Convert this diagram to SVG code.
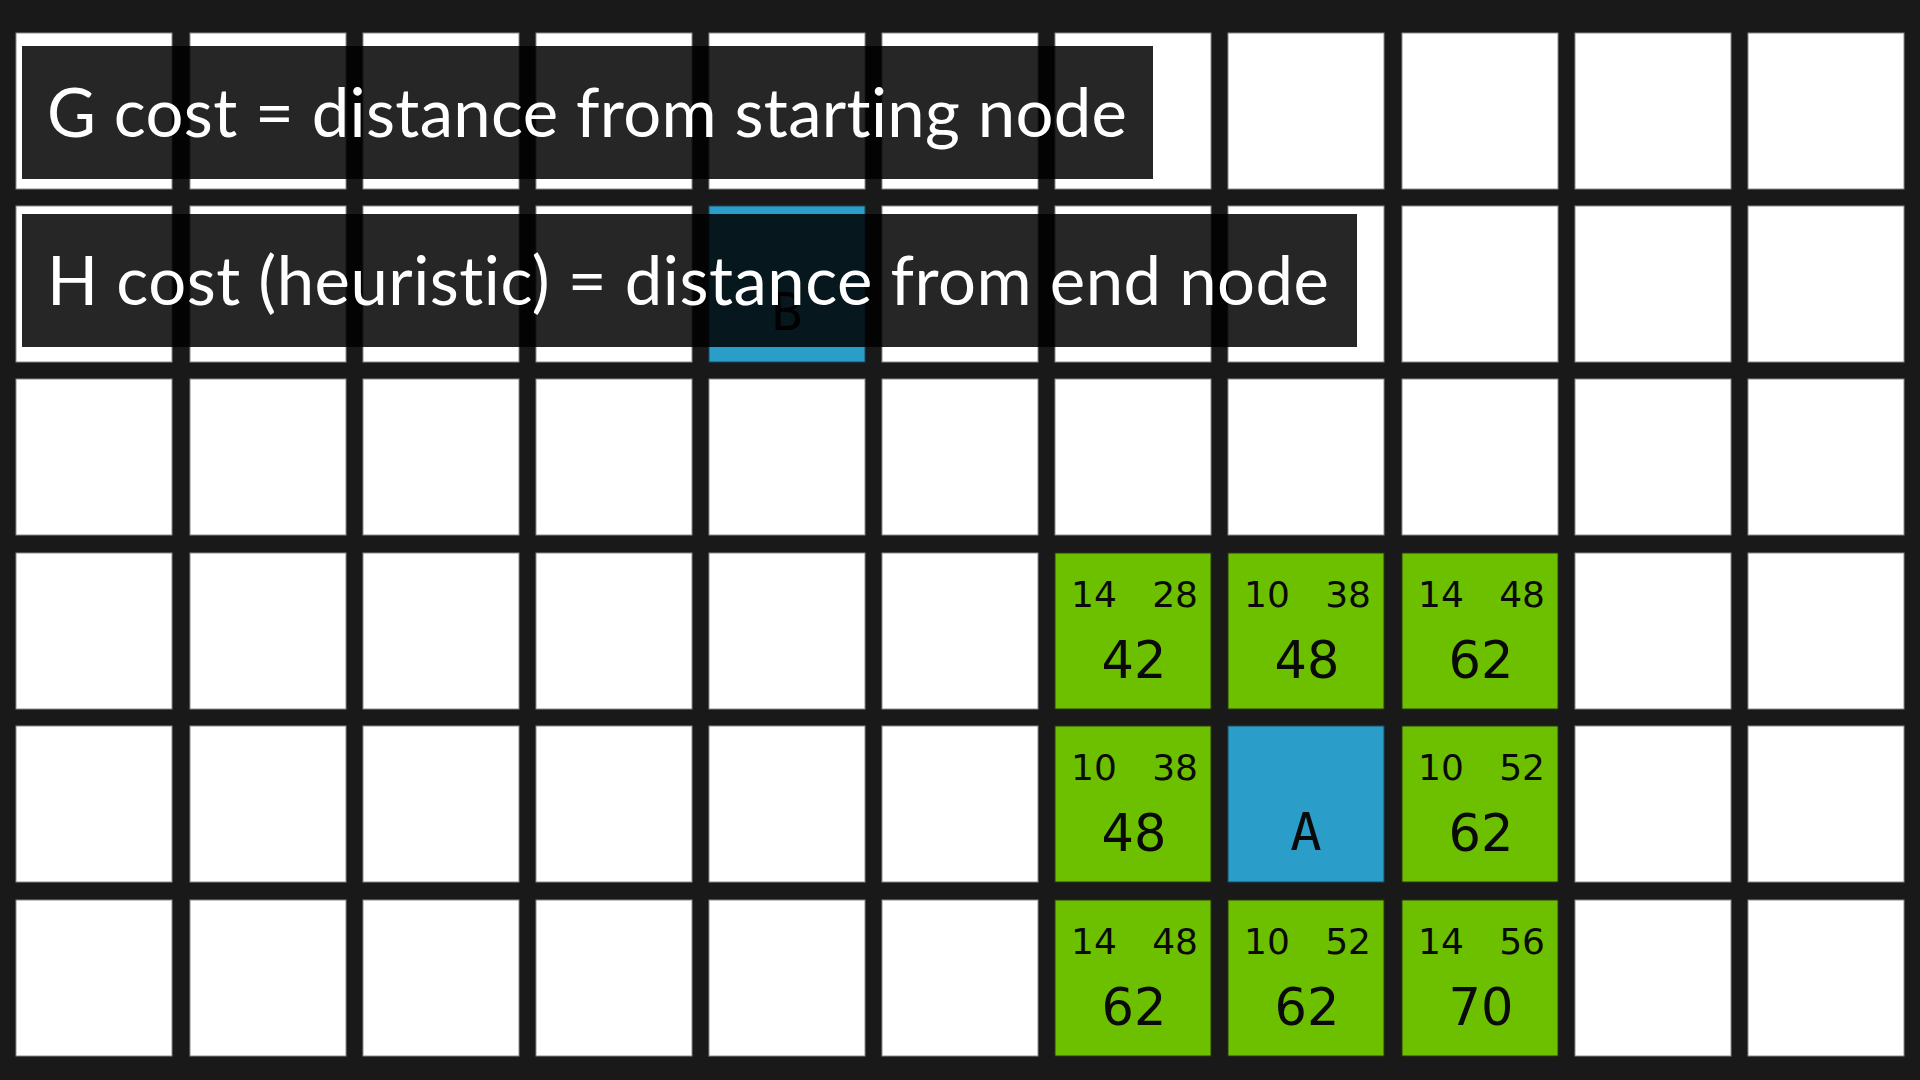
<svg xmlns="http://www.w3.org/2000/svg" width="1920" height="1080" viewBox="0 0 1920 1080">
<style>
.cell{fill:#ffffff;stroke:#8a8a8a;stroke-width:1}
.open{fill:#6cc000;stroke:#2a3a10;stroke-width:1}
.node{fill:#2a9dc9;stroke:#1a4a60;stroke-width:1}
.s{font-family:"DejaVu Sans",sans-serif;font-size:36px;fill:#0a0a0a}
.sr{font-family:"DejaVu Sans",sans-serif;font-size:36px;fill:#0a0a0a;text-anchor:end}
.b{font-family:"DejaVu Sans",sans-serif;font-size:51px;fill:#0a0a0a;text-anchor:middle}
.l{font-family:"DejaVu Sans Mono",monospace;font-size:52px;fill:#0a0a0a;text-anchor:middle}
.ov{fill:#000000;fill-opacity:0.85}
.t{font-family:Lato,"Liberation Sans",sans-serif;font-size:67px;fill:#ffffff;font-variant-ligatures:none;font-feature-settings:"liga" 0,"clig" 0}
</style>
<rect width="1920" height="1080" fill="#191919"/>
<g id="grid">
<rect class="cell" x="16" y="33" width="156" height="156"/><rect class="cell" x="190" y="33" width="156" height="156"/><rect class="cell" x="363" y="33" width="156" height="156"/><rect class="cell" x="536" y="33" width="156" height="156"/><rect class="cell" x="709" y="33" width="156" height="156"/><rect class="cell" x="882" y="33" width="156" height="156"/><rect class="cell" x="1055" y="33" width="156" height="156"/><rect class="cell" x="1228" y="33" width="156" height="156"/><rect class="cell" x="1402" y="33" width="156" height="156"/><rect class="cell" x="1575" y="33" width="156" height="156"/><rect class="cell" x="1748" y="33" width="156" height="156"/>
<rect class="cell" x="16" y="206" width="156" height="156"/><rect class="cell" x="190" y="206" width="156" height="156"/><rect class="cell" x="363" y="206" width="156" height="156"/><rect class="cell" x="536" y="206" width="156" height="156"/><rect class="cell" x="882" y="206" width="156" height="156"/><rect class="cell" x="1055" y="206" width="156" height="156"/><rect class="cell" x="1228" y="206" width="156" height="156"/><rect class="cell" x="1402" y="206" width="156" height="156"/><rect class="cell" x="1575" y="206" width="156" height="156"/><rect class="cell" x="1748" y="206" width="156" height="156"/>
<rect class="cell" x="16" y="379" width="156" height="156"/><rect class="cell" x="190" y="379" width="156" height="156"/><rect class="cell" x="363" y="379" width="156" height="156"/><rect class="cell" x="536" y="379" width="156" height="156"/><rect class="cell" x="709" y="379" width="156" height="156"/><rect class="cell" x="882" y="379" width="156" height="156"/><rect class="cell" x="1055" y="379" width="156" height="156"/><rect class="cell" x="1228" y="379" width="156" height="156"/><rect class="cell" x="1402" y="379" width="156" height="156"/><rect class="cell" x="1575" y="379" width="156" height="156"/><rect class="cell" x="1748" y="379" width="156" height="156"/>
<rect class="cell" x="16" y="553" width="156" height="156"/><rect class="cell" x="190" y="553" width="156" height="156"/><rect class="cell" x="363" y="553" width="156" height="156"/><rect class="cell" x="536" y="553" width="156" height="156"/><rect class="cell" x="709" y="553" width="156" height="156"/><rect class="cell" x="882" y="553" width="156" height="156"/><rect class="cell" x="1575" y="553" width="156" height="156"/><rect class="cell" x="1748" y="553" width="156" height="156"/>
<rect class="cell" x="16" y="726" width="156" height="156"/><rect class="cell" x="190" y="726" width="156" height="156"/><rect class="cell" x="363" y="726" width="156" height="156"/><rect class="cell" x="536" y="726" width="156" height="156"/><rect class="cell" x="709" y="726" width="156" height="156"/><rect class="cell" x="882" y="726" width="156" height="156"/><rect class="cell" x="1575" y="726" width="156" height="156"/><rect class="cell" x="1748" y="726" width="156" height="156"/>
<rect class="cell" x="16" y="900" width="156" height="156"/><rect class="cell" x="190" y="900" width="156" height="156"/><rect class="cell" x="363" y="900" width="156" height="156"/><rect class="cell" x="536" y="900" width="156" height="156"/><rect class="cell" x="709" y="900" width="156" height="156"/><rect class="cell" x="882" y="900" width="156" height="156"/><rect class="cell" x="1575" y="900" width="156" height="156"/><rect class="cell" x="1748" y="900" width="156" height="156"/>
</g>
<g id="node-B"><rect class="node" x="709" y="206" width="156" height="156"/><text class="l" x="787" y="330">B</text></g>
<g id="node-A"><rect class="node" x="1228" y="726" width="156" height="156"/><text class="l" x="1306" y="850">A</text></g>
<g id="n-6-3"><rect class="open" x="1055" y="553" width="156" height="156"/><text class="s" x="1071" y="607">14</text><text class="sr" x="1198" y="607">28</text><text class="b" x="1134" y="678">42</text></g>
<g id="n-7-3"><rect class="open" x="1228" y="553" width="156" height="156"/><text class="s" x="1244" y="607">10</text><text class="sr" x="1371" y="607">38</text><text class="b" x="1307" y="678">48</text></g>
<g id="n-8-3"><rect class="open" x="1402" y="553" width="156" height="156"/><text class="s" x="1418" y="607">14</text><text class="sr" x="1545" y="607">48</text><text class="b" x="1481" y="678">62</text></g>
<g id="n-6-4"><rect class="open" x="1055" y="726" width="156" height="156"/><text class="s" x="1071" y="780">10</text><text class="sr" x="1198" y="780">38</text><text class="b" x="1134" y="851">48</text></g>
<g id="n-8-4"><rect class="open" x="1402" y="726" width="156" height="156"/><text class="s" x="1418" y="780">10</text><text class="sr" x="1545" y="780">52</text><text class="b" x="1481" y="851">62</text></g>
<g id="n-6-5"><rect class="open" x="1055" y="900" width="156" height="156"/><text class="s" x="1071" y="954">14</text><text class="sr" x="1198" y="954">48</text><text class="b" x="1134" y="1025">62</text></g>
<g id="n-7-5"><rect class="open" x="1228" y="900" width="156" height="156"/><text class="s" x="1244" y="954">10</text><text class="sr" x="1371" y="954">52</text><text class="b" x="1307" y="1025">62</text></g>
<g id="n-8-5"><rect class="open" x="1402" y="900" width="156" height="156"/><text class="s" x="1418" y="954">14</text><text class="sr" x="1545" y="954">56</text><text class="b" x="1481" y="1025">70</text></g>
<g id="label-G"><rect class="ov" x="22" y="46" width="1131" height="133"/><text class="t" x="47" y="137" textLength="1080" lengthAdjust="spacing">G cost = distance from starting node</text></g>
<g id="label-H"><rect class="ov" x="22" y="214" width="1335" height="133"/><text class="t" x="47" y="305" textLength="1282" lengthAdjust="spacing">H cost (heuristic) = distance from end node</text></g>
</svg>
